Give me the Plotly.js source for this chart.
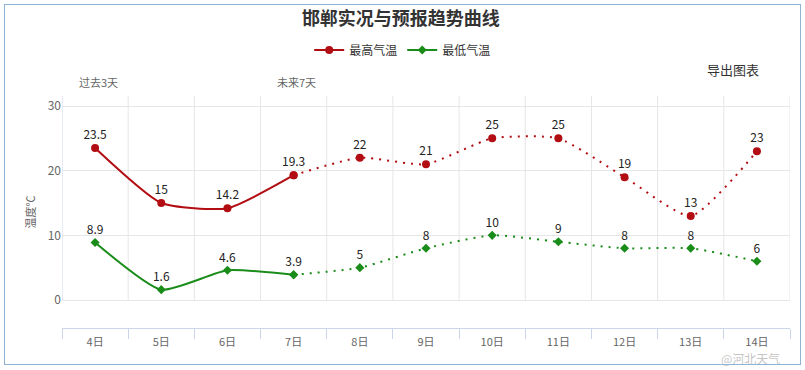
<!DOCTYPE html>
<html>
<head>
<meta charset="utf-8">
<script src="https://cdn.plot.ly/plotly-3.0.1.min.js"></script>
<style>
html,body{margin:0;padding:0;background:#fff;}
#wrap{position:relative;width:805px;height:370px;}
#chart{width:805px;height:370px;}
#frame{position:absolute;left:4px;top:4px;width:795px;height:359px;border:1px solid #90b2d4;pointer-events:none;}
</style>
</head>
<body>
<div id="wrap"><div id="chart"></div><div id="frame"></div></div>
<script>
// ---- data ----
const days = ['4日','5日','6日','7日','8日','9日','10日','11日','12日','13日','14日'];
const highPast = [23.5, 15, 14.2, 19.3];
const highFuture = [19.3, 22, 21, 25, 25, 19, 13, 23];
const lowPast = [8.9, 1.6, 4.6, 3.9];
const lowFuture = [3.9, 5, 8, 10, 9, 8, 8, 6];
const seriesNames = ['最高气温', '最低气温'];
const yTicks = [0, 10, 20, 30];

const RED = '#b20d12';
const GREEN = '#1a8c1a';
const FONT = '"Microsoft YaHei","Noto Sans CJK SC",sans-serif';

const pastDays = days.slice(0, highPast.length);
const futureDays = days.slice(highPast.length - 1);

function labels(arr, skipFirst) {
  return arr.map((v, i) => (skipFirst && i === 0) ? '' : String(v));
}

const lblFont = {family: FONT, size: 12, color: '#222'};
const SM = 0.55;

const traces = [
  {x: pastDays, y: highPast, name: seriesNames[0], mode: 'lines+markers+text',
   text: labels(highPast, false), textposition: 'top center', textfont: lblFont,
   line: {color: RED, width: 2, shape: 'spline', smoothing: SM},
   marker: {color: RED, size: 8, symbol: 'circle'}, showlegend: true},
  {x: futureDays, y: highFuture, name: seriesNames[0], mode: 'lines+markers+text',
   text: labels(highFuture, true), textposition: 'top center', textfont: lblFont,
   line: {color: RED, width: 2, shape: 'spline', smoothing: SM, dash: '2px,6px'},
   marker: {color: RED, size: 8, symbol: 'circle'}, showlegend: false},
  {x: pastDays, y: lowPast, name: seriesNames[1], mode: 'lines+markers+text',
   text: labels(lowPast, false), textposition: 'top center', textfont: lblFont,
   line: {color: GREEN, width: 2, shape: 'spline', smoothing: SM},
   marker: {color: GREEN, size: 7, symbol: 'diamond'}, showlegend: true},
  {x: futureDays, y: lowFuture, name: seriesNames[1], mode: 'lines+markers+text',
   text: labels(lowFuture, true), textposition: 'top center', textfont: lblFont,
   line: {color: GREEN, width: 2, shape: 'spline', smoothing: SM, dash: '2px,6px'},
   marker: {color: GREEN, size: 7, symbol: 'diamond'}, showlegend: false}
];

const yTop = 31.55, yBot = -4.33;
const shapes = [];
for (let i = 0; i <= days.length; i++) {
  shapes.push({type: 'line', xref: 'x', yref: 'y', x0: i - 0.5, x1: i - 0.5, y0: 0, y1: yTop,
    line: {color: i === 0 ? '#ccd6eb' : '#e6e6e6', width: 1}, layer: 'below'});
}

function ann(px, py, text, font) {
  return {xref: 'paper', yref: 'paper', x: (px - 62) / 728, y: (328 - py) / 232, text: text,
    xanchor: 'center', yanchor: 'middle', showarrow: false, font: font};
}

const layout = {
  width: 805, height: 370,
  margin: {l: 62, r: 15, t: 96, b: 42},
  paper_bgcolor: '#fff', plot_bgcolor: '#fff',
  font: {family: FONT, size: 11, color: '#666'},
  title: {text: '<b>邯郸实况与预报趋势曲线</b>', font: {family: FONT, size: 18, color: '#333'},
    x: 0.498, xanchor: 'center', y: 0.95, yanchor: 'middle'},
  showlegend: true,
  legend: {orientation: 'h', x: 0.468, xanchor: 'center', y: 1.198, yanchor: 'middle',
    font: {family: FONT, size: 12, color: '#333'}, itemwidth: 30},
  xaxis: {type: 'category', categoryorder: 'array', categoryarray: days,
    range: [-0.5, days.length - 0.5], showgrid: false, zeroline: false,
    showline: true, linecolor: '#ccd6eb', linewidth: 1,
    ticks: 'outside', tickson: 'boundaries', ticklen: 10, tickcolor: '#ccd6eb',
    ticklabelstandoff: 4,
    tickfont: {family: FONT, size: 11, color: '#666'}, fixedrange: true},
  yaxis: {range: [yBot, yTop], tickvals: yTicks, showgrid: true, gridcolor: '#e6e6e6',
    zeroline: false, showline: false, ticks: '',
    tickfont: {family: FONT, size: 12, color: '#666'},
    title: {text: '温度℃', font: {family: FONT, size: 11, color: '#666'}, standoff: 9},
    fixedrange: true},
  shapes: shapes,
  annotations: [
    ann(98, 82, '过去3天', {family: FONT, size: 11, color: '#666'}),
    ann(296, 82, '未来7天', {family: FONT, size: 11, color: '#666'}),
    ann(733, 69, '导出图表', {family: FONT, size: 13, color: '#333'}),
    ann(750, 358, '@河北天气', {family: FONT, size: 12, color: 'rgba(170,170,170,0.7)'})
  ],
  hovermode: false
};

Plotly.newPlot('chart', traces, layout, {displayModeBar: false, staticPlot: true});
</script>
</body>
</html>
